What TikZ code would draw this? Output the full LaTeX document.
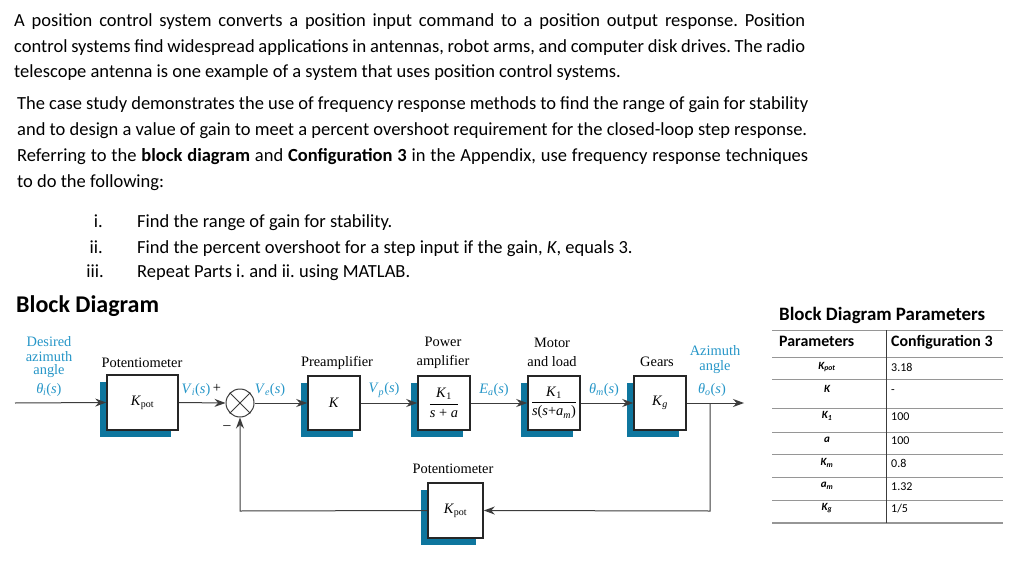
\documentclass[tikz,border=0pt]{standalone}
\usepackage{fontspec}
\setmainfont{Carlito}
\newfontfamily\tms{Liberation Serif}
\usetikzlibrary{arrows.meta,shadows}
\definecolor{lblue}{RGB}{38,150,200}
\definecolor{sblue}{RGB}{14,118,158}
\definecolor{lgray}{RGB}{60,60,60}
\definecolor{tgray}{RGB}{150,150,150}
\newcommand{\sgl}[2]{\textit{#1}\textsubscript{\textit{#2}}(\textit{s})}
\frenchspacing
\begin{document}
\begin{tikzpicture}[x=1pt,y=-1pt,
  txt/.style={font=\fontsize{18.5}{22}\selectfont, inner sep=0pt, anchor=base west},
  lbl/.style={font=\tms\fontsize{14.4}{16}\selectfont, inner sep=0pt},
  sig/.style={lbl, text=lblue},
  blk/.style={draw=black!85, line width=1.6pt, fill=white, inner sep=0pt,
    minimum width=52pt, minimum height=54pt, font=\tms\fontsize{14.4}{16}\selectfont,
    drop shadow={shadow xshift=-7pt, shadow yshift=-7pt, opacity=1, fill=sblue}},
  conn/.style={draw=lgray, line width=1pt},
  arr/.style={conn, -{Stealth[length=11pt,width=8pt]}},
  tline/.style={draw=tgray, line width=0.8pt},
  tlab/.style={font=\bfseries\itshape\fontsize{11}{13}\selectfont, inner sep=0pt},
  tval/.style={font=\fontsize{12}{14}\selectfont, inner sep=0pt, anchor=base west}
]
\useasboundingbox (0,0) rectangle (1024,561);
\fill[white] (0,0) rectangle (1024,561);

% ---------- paragraph 1
\node[txt] (p1a) at (14,27) {\makebox[791pt][s]{A position control system converts a position input command to a position output response. Position}};
\node[txt] (p1b) at (14,52.5) {\makebox[791pt][s]{control systems find widespread applications in antennas, robot arms, and computer disk drives. The radio}};
\node[txt] (p1c) at (14,78) {telescope antenna is one example of a system that uses position control systems.};
% ---------- paragraph 2
\node[txt] (p2a) at (17,110) {\makebox[791pt][s]{The case study demonstrates the use of frequency response methods to find the range of gain for stability}};
\node[txt] (p2b) at (17,136) {\makebox[790pt][s]{and to design a value of gain to meet a percent overshoot requirement for the closed-loop step response.}};
\node[txt] (p2c) at (17,162) {\makebox[791pt][s]{Referring to the \textbf{block diagram} and \textbf{Configuration 3} in the Appendix, use frequency response techniques}};
\node[txt] (p2d) at (17,188) {to do the following:};
% ---------- list
\node[txt, anchor=base east] (n1) at (103,228) {i.};
\node[txt, anchor=base east] (n2) at (103,253) {ii.};
\node[txt, anchor=base east] (n3) at (104,277) {iii.};
\node[txt] (i1) at (137,228) {Find the range of gain for stability.};
\node[txt] (i2) at (137,253) {Find the percent overshoot for a step input if the gain, \textit{K}, equals 3.};
\node[txt] (i3) at (137,277) {Repeat Parts i. and ii. using MATLAB.};
% ---------- heading
\node[txt, font=\bfseries\fontsize{24}{28}\selectfont] (hd) at (16,312) {Block Diagram};

% ---------- block diagram
\coordinate (in) at (15,403);
\node[blk, minimum width=71pt, minimum height=55pt] (kp1) at (142.5,402.5) {\textit{K}\textsubscript{pot}};
\node[draw=lgray, line width=1pt, circle, minimum size=28pt, inner sep=0pt, fill=white] (sum) at (240,403) {};
\draw[conn] (sum.north west) -- (sum.south east) (sum.north east) -- (sum.south west);
\node[blk] (kk) at (334,403) {\textit{K}};
\node[blk] (pa) at (444,403) {$\displaystyle\frac{\hbox{\textit{K}\textsubscript{1}}}{\hbox{\textit{s} + \textit{a}}}$};
\node[blk] (ml) at (554,403) {$\displaystyle\frac{\hbox{\textit{K}\textsubscript{1}}}{\hbox{\textit{s}(\textit{s}+\textit{a}\textsubscript{\textit{m}})}}$};
\node[blk] (gr) at (660,403) {\textit{K}\textsubscript{\textit{g}}};
\node[blk, minimum width=55pt, minimum height=55pt] (kp2) at (455.5,510.5) {\textit{K}\textsubscript{pot}};
\coordinate (br) at (710,403);
\coordinate (out) at (744,403);
\coordinate (fbr) at (710,511);
\coordinate (fbl) at (240,511);

\draw[arr] (in) -- (kp1.west);
\draw[arr] (kp1.east) -- (sum.west);
\draw[arr] (sum.east) -- (kk.west);
\draw[arr] (kk.east) -- (pa.west);
\draw[arr] (pa.east) -- (ml.west);
\draw[arr] (ml.east) -- (gr.west);
\draw[arr] (gr.east) -- (out);
\draw[arr] (br) -- (fbr) -- (kp2.east);
\draw[arr] (kp2.west) -- (fbl) -- (sum.south);

% labels
\node[sig] (d1) at (49,342) {Desired};
\node[sig] (d2) at (49,356.5) {azimuth};
\node[sig] (d3) at (49,371.5) {angle};
\node[sig] (th) at (49,390) {\textit{θ}\kern-0.5pt\textsubscript{\textit{i}}(\textit{s})};
\node[lbl] (l1) at (142,363) {Potentiometer};
\node[sig] (vi) at (196,390) {\sgl{V}{i}};
\node[lbl] (plus) at (217,388) {+};
\node[lbl] (minus) at (227,428) {\textendash};
\node[sig] (ve) at (270,390) {\sgl{V}{e}};
\node[lbl] (l2) at (337,363) {Preamplifier};
\node[sig] (vp) at (384,390) {\sgl{V}{p}};
\node[lbl] (l3a) at (443,342) {Power};
\node[lbl] (l3b) at (443,362) {amplifier};
\node[sig] (ea) at (494,390) {\sgl{E}{a}};
\node[lbl] (l4a) at (552,343) {Motor};
\node[lbl] (l4b) at (552,362) {and load};
\node[sig] (tm) at (604,390) {\textit{θ}\textsubscript{\textit{m}}(\textit{s})};
\node[lbl] (l5) at (657,362) {Gears};
\node[sig] (a1) at (715,351) {Azimuth};
\node[sig] (a2) at (715,367.5) {angle};
\node[sig] (to) at (712,390) {\textit{θ}\textsubscript{\textit{o}}(\textit{s})};
\node[lbl] (l6) at (453,469) {Potentiometer};

% ---------- table
\node[txt, font=\bfseries\fontsize{18.9}{22}\selectfont] (tt) at (779,320) {Block Diagram Parameters};
\draw[tline] (772,330) -- (1003,330);
\foreach \yy in {357,379,408,432,454,477,500} \draw[tline] (772,\yy) -- (1003,\yy);
\draw[draw=tgray, line width=2pt] (772,523) -- (1003,523);
\draw[draw=lgray, line width=0.8pt] (886,330) -- (886,523);
\node[txt, font=\bfseries\fontsize{15.9}{18}\selectfont] (h1) at (779,346) {Parameters};
\node[txt, font=\bfseries\fontsize{15.9}{18}\selectfont] (h2) at (891,346) {Configuration 3};
\node[tlab] (r1) at (827,367) {K\textsubscript{pot}};
\node[tlab] (r2) at (827,389) {K};
\node[tlab] (r3) at (827,416) {K\textsubscript{1}};
\node[tlab] (r4) at (827,440) {a};
\node[tlab] (r5) at (827,463) {K\textsubscript{m}};
\node[tlab] (r6) at (827,486) {a\textsubscript{m}};
\node[tlab] (r7) at (827,508) {K\textsubscript{g}};
\node[tval] (v1) at (891,371) {3.18};
\node[tval] (v2) at (891,393) {-};
\node[tval] (v3) at (891,420) {100};
\node[tval] (v4) at (891,444) {100};
\node[tval] (v5) at (891,467) {0.8};
\node[tval] (v6) at (891,490) {1.32};
\node[tval] (v7) at (891,512) {1/5};
\end{tikzpicture}
\end{document}
